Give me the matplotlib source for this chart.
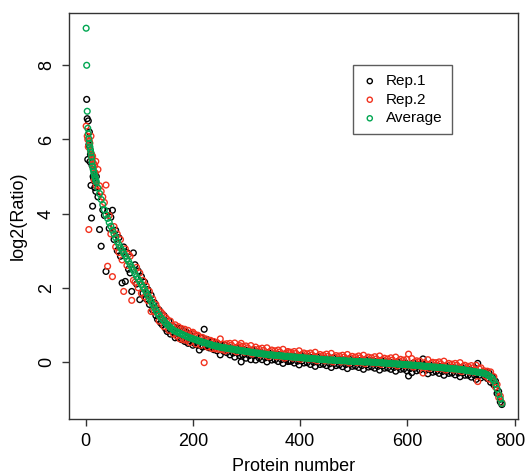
import numpy as np
import matplotlib
matplotlib.use("Agg")
import matplotlib.pyplot as plt
import matplotlib.transforms as mtransforms

plt.rcParams['font.family'] = ['Liberation Sans', 'DejaVu Sans']

nan = np.nan

# ---- first 20 proteins (one per protein) ----
avg_head = [9.00, 8.00, 6.76, 6.30, 6.15, 6.02, 5.90, 5.80, 5.72, 5.64,
            5.52, 5.40, 5.28, 5.20, 5.13, 5.06, 5.00, 4.95, 4.90, 4.85]
rep1_head = [nan, 7.08, 6.56, 5.46, 6.50, 5.85, 6.20, 5.40, 5.60, 4.76,
             3.88, 5.30, 4.20, 5.00, 4.95, 5.05, 4.70, 4.85, 4.60, 5.00]
rep2_head = [6.36, nan, 6.09, 6.00, 5.80, 3.57, 5.95, 5.90, 5.70, 6.09,
             5.60, 5.45, 5.55, 5.25, 5.35, 4.90, 5.30, 5.10, 5.41, 4.75]

# ---- proteins 23, 26, 29, ... 776 (every 3rd protein) ----
avg_tail = [
    4.69, 4.54, 4.38, 4.24, 4.10, 3.97, 3.87, 3.76, 3.66, 3.55,   # 23-50
    3.45, 3.35, 3.24, 3.16, 3.08, 3.01, 2.93, 2.86, 2.78, 2.71,   # 53-80
    2.63, 2.55, 2.47, 2.38, 2.30, 2.23, 2.16, 2.09, 2.02, 1.95,   # 83-110
    1.87, 1.79, 1.71, 1.63, 1.55, 1.47, 1.39, 1.32, 1.26, 1.20,   # 113-140
    1.15, 1.10, 1.05, 1.01, 0.97, 0.93, 0.89, 0.85, 0.83, 0.81,   # 143-170
    0.79, 0.77, 0.75, 0.73, 0.71, 0.69, 0.67, 0.65, 0.64, 0.62,   # 173-200
    0.61, 0.59, 0.58, 0.56, 0.55, 0.53, 0.52, 0.51, 0.49, 0.48,   # 203-230
    0.47, 0.45, 0.44, 0.43, 0.42, 0.41, 0.40, 0.39, 0.38, 0.38,   # 233-260
    0.37, 0.36, 0.35, 0.35, 0.34, 0.33, 0.32, 0.32, 0.31, 0.30,   # 263-290
    0.30, 0.29, 0.28, 0.28, 0.27, 0.26, 0.26, 0.25, 0.24, 0.24,   # 293-320
    0.23, 0.22, 0.22, 0.21, 0.21, 0.20, 0.19, 0.19, 0.19, 0.18,   # 323-350
    0.18, 0.17, 0.17, 0.17, 0.16, 0.16, 0.15, 0.15, 0.15, 0.14,   # 353-380
    0.14, 0.13, 0.13, 0.13, 0.12, 0.12, 0.12, 0.11, 0.11, 0.10,   # 383-410
    0.10, 0.10, 0.09, 0.09, 0.09, 0.08, 0.08, 0.07, 0.07, 0.07,   # 413-440
    0.06, 0.06, 0.06, 0.05, 0.05, 0.05, 0.05, 0.04, 0.04, 0.04,   # 443-470
    0.04, 0.03, 0.03, 0.03, 0.03, 0.02, 0.02, 0.02, 0.02, 0.01,   # 473-500
    0.01, 0.01, 0.01, 0.01, 0.00, 0.00, 0.00, 0.00, 0.00, 0.00,   # 503-530
    -0.01, -0.01, -0.01, -0.02, -0.02, -0.02, -0.02, -0.03, -0.03, -0.03,  # 533-560
    -0.04, -0.04, -0.04, -0.05, -0.05, -0.05, -0.06, -0.06, -0.06, -0.07,  # 563-590
    -0.07, -0.07, -0.08, -0.08, -0.08, -0.09, -0.09, -0.09, -0.10, -0.10,  # 593-620
    -0.10, -0.11, -0.11, -0.12, -0.12, -0.12, -0.13, -0.13, -0.14, -0.14,  # 623-650
    -0.14, -0.15, -0.15, -0.15, -0.16, -0.16, -0.17, -0.17, -0.17, -0.18,  # 653-680
    -0.18, -0.19, -0.19, -0.19, -0.20, -0.20, -0.21, -0.21, -0.22, -0.23,  # 683-710
    -0.24, -0.24, -0.25, -0.26, -0.26, -0.27, -0.28, -0.28, -0.29, -0.30,  # 713-740
    -0.31, -0.33, -0.35, -0.38, -0.41, -0.45, -0.51, -0.60, -0.73, -0.88,  # 743-770
    -1.00, -1.12,                                                          # 773-776
]
rep1_tail = [
    4.45, 3.57, 3.12, 4.10, 3.95, 2.44, 4.06, 3.60, 3.90, 4.09,
    3.30, 3.55, 3.00, 3.35, 2.85, 2.13, 3.10, 2.17, 2.95, 2.50,
    2.40, 1.90, 2.94, 2.62, 2.10, 2.45, 1.68, 2.30, 1.85, 2.15,
    1.70, 1.95, 1.55, 1.80, 1.40, 1.60, 1.25, 1.15, 1.40, 1.05,
    1.00, 1.25, 0.90, 0.82, 1.10, 0.75, 0.82, 0.95, 0.65, 0.90,
    0.65, 0.90, 0.60, 0.85, 0.55, 0.80, 0.50, 0.75, 0.55, 0.45,
    0.50, 0.70, 0.45, 0.32, 0.65, 0.40, 0.88, 0.42, 0.60, 0.38,
    0.38, 0.55, 0.33, 0.50, 0.30, 0.48, 0.19, 0.44, 0.29, 0.45,
    0.25, 0.40, 0.19, 0.37, 0.24, 0.13, 0.38, 0.24, 0.17, 0.00,
    0.18, 0.33, 0.10, 0.30, 0.17, 0.06, 0.32, 0.17, 0.05, 0.27,
    0.11, 0.26, 0.06, 0.23, 0.11, 0.00, 0.25, 0.11, 0.05, 0.21,
    0.06, 0.21, 0.01, 0.19, 0.06, -0.04, 0.21, 0.07, 0.01, 0.02,
    0.02, 0.17, -0.03, 0.15, 0.02, -0.08, 0.18, 0.03, -0.03, 0.13,
    -0.02, 0.14, -0.07, 0.11, -0.01, -0.12, 0.14, -0.01, -0.07, 0.10,
    -0.06, 0.10, -0.10, 0.07, -0.05, -0.15, 0.11, -0.04, -0.10, 0.07,
    -0.08, 0.07, -0.13, 0.05, -0.07, -0.18, 0.08, -0.06, -0.12, 0.04,
    -0.11, 0.05, -0.15, 0.03, -0.10, -0.20, 0.06, -0.08, -0.14, 0.03,
    -0.13, 0.03, -0.17, 0.00, -0.12, -0.22, 0.04, -0.11, -0.17, 0.00,
    -0.16, 0.00, -0.20, -0.03, -0.15, -0.25, 0.00, -0.14, -0.20, -0.04,
    -0.19, -0.03, -0.24, -0.38, -0.18, -0.29, -0.03, -0.17, -0.24, -0.07,
    -0.22, -0.07, 0.08, -0.10, -0.22, -0.32, -0.07, -0.21, -0.28, -0.11,
    -0.26, -0.11, -0.31, -0.13, -0.26, -0.36, -0.11, -0.25, -0.31, -0.15,
    -0.30, -0.15, -0.35, -0.17, -0.30, -0.40, -0.15, -0.29, -0.36, -0.20,
    -0.36, -0.20, -0.41, -0.24, -0.36, -0.47, -0.04, -0.36, -0.43, -0.27,
    -0.38, -0.28, -0.45, -0.30, -0.55, -0.40, -0.62, -0.52, -0.85, -0.80,
    -1.08, -1.15,
]
rep2_tail = [
    5.19, 4.75, 4.60, 4.45, 4.30, 4.77, 2.58, 3.95, 3.45, 2.30,
    3.65, 3.10, 3.45, 2.95, 3.30, 2.75, 1.90, 3.05, 2.60, 2.90,
    2.85, 1.66, 2.20, 2.15, 2.55, 2.00, 2.40, 1.85, 2.20, 1.75,
    2.05, 1.65, 1.90, 1.36, 1.70, 1.35, 1.55, 1.45, 1.10, 1.35,
    1.30, 0.95, 1.20, 1.15, 0.85, 1.10, 0.98, 0.75, 1.00, 0.70,
    0.95, 0.62, 0.90, 0.60, 0.88, 0.58, 0.85, 0.52, 0.78, 0.80,
    0.75, 0.48, 0.72, 0.68, 0.45, 0.66, -0.02, 0.62, 0.40, 0.58,
    0.58, 0.36, 0.55, 0.35, 0.52, 0.34, 0.62, 0.33, 0.48, 0.30,
    0.49, 0.33, 0.50, 0.45, 0.32, 0.51, 0.27, 0.41, 0.44, 0.50,
    0.42, 0.26, 0.43, 0.38, 0.25, 0.44, 0.21, 0.34, 0.40, 0.25,
    0.35, 0.19, 0.37, 0.31, 0.19, 0.38, 0.14, 0.28, 0.32, 0.19,
    0.30, 0.14, 0.32, 0.27, 0.14, 0.34, 0.10, 0.24, 0.28, 0.26,
    0.26, 0.10, 0.28, 0.23, 0.10, 0.30, 0.07, 0.20, 0.24, 0.11,
    0.22, 0.07, 0.24, 0.19, 0.07, 0.26, 0.03, 0.16, 0.20, 0.08,
    0.18, 0.03, 0.21, 0.15, 0.03, 0.23, 0.00, 0.13, 0.17, 0.05,
    0.16, 0.00, 0.18, 0.13, 0.01, 0.20, -0.03, 0.11, 0.15, 0.02,
    0.13, -0.02, 0.16, 0.11, -0.02, 0.18, -0.05, 0.09, 0.13, 0.01,
    0.11, -0.04, 0.14, 0.08, -0.04, 0.16, -0.07, 0.06, 0.10, -0.02,
    0.08, -0.07, 0.11, 0.05, -0.07, 0.13, -0.11, 0.03, 0.07, -0.06,
    0.05, -0.10, 0.07, 0.21, -0.10, 0.09, -0.14, 0.00, 0.03, -0.09,
    0.02, -0.14, -0.30, -0.02, -0.14, 0.06, -0.18, -0.04, -0.01, -0.13,
    -0.02, -0.18, 0.00, -0.05, -0.18, 0.02, -0.22, -0.08, -0.04, -0.17,
    -0.06, -0.22, -0.04, -0.09, -0.22, -0.02, -0.26, -0.12, -0.09, -0.22,
    -0.12, -0.27, -0.10, -0.16, -0.28, -0.09, -0.53, -0.19, -0.16, -0.29,
    -0.24, -0.38, -0.25, -0.46, -0.27, -0.50, -0.40, -0.68, -0.61, -0.96,
    -0.92, -1.10,
]

protein = np.concatenate([np.arange(1, 21), np.arange(23, 23 + 3 * len(avg_tail), 3)])
avg = np.array(avg_head + avg_tail)
rep1 = np.array(rep1_head + rep1_tail)
rep2 = np.array(rep2_head + rep2_tail)

x_ticks = [0, 200, 400, 600, 800]
y_ticks = [0, 2, 4, 6, 8]
labels = ["Rep.1", "Rep.2", "Average"]
colors = ["#000000", "#F2321E", "#00A651"]

fig = plt.figure(figsize=(5.27, 4.75), dpi=100)
ax = fig.add_axes([0.1309, 0.1179, 0.852, 0.8547])

ms = 17
lw = 1.0
ax.scatter(protein, rep1, s=ms, facecolors='none', edgecolors=colors[0], linewidths=lw, label=labels[0])
ax.scatter(protein, rep2, s=ms, facecolors='none', edgecolors=colors[1], linewidths=lw, label=labels[1])
ax.scatter(protein, avg, s=ms, facecolors='none', edgecolors=colors[2], linewidths=lw, label=labels[2])

ax.set_xlim(-31, 806)
ax.set_ylim(-1.54, 9.41)
ax.set_xticks(x_ticks)
ax.set_yticks(y_ticks)
ax.tick_params(direction='out', length=5, width=1, labelsize=13, color='#333333', pad=5)
for lab in ax.get_yticklabels():
    lab.set_rotation(90)
    lab.set_va('center')
# keep the last x tick label inside the figure edge
last = ax.get_xticklabels()[-1]
last.set_transform(last.get_transform() + mtransforms.ScaledTranslation(-4 / 100, 0, fig.dpi_scale_trans))
for sp in ax.spines.values():
    sp.set_color('#333333')
    sp.set_linewidth(1.0)

ax.set_xlabel("Protein number", fontsize=13, labelpad=6)
ax.set_ylabel("log2(Ratio)", fontsize=13, labelpad=8)

leg = ax.legend(loc='upper left', bbox_to_anchor=(0.6325, 0.872), borderaxespad=0,
                fontsize=11, frameon=True, fancybox=False, handletextpad=0.55,
                markerscale=0.9, borderpad=0.6, labelspacing=0.3, handlelength=1.0)
leg.get_frame().set_edgecolor('#333333')
leg.get_frame().set_linewidth(1.0)

fig.savefig("out.png", dpi=100)
